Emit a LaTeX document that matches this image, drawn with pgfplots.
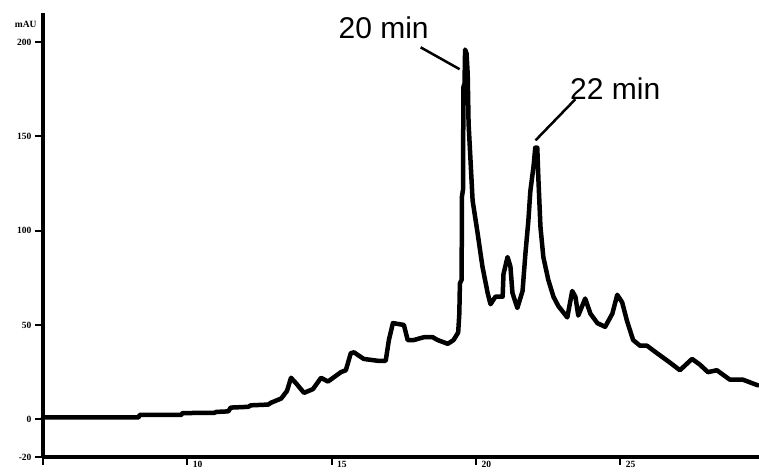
\documentclass[border=0pt]{standalone}
\usepackage{fontspec}
\setmainfont{Liberation Serif}
\newfontfamily\annotfont{Liberation Sans}
\usepackage{pgfplots}
\pgfplotsset{compat=1.18}
\begin{document}
\begin{tikzpicture}
\begin{axis}[
  at={(0pt,0pt)}, anchor=south west,
  scale only axis, width=716pt, height=444pt,
  xmin=5, xmax=29.8, ymin=-20, ymax=215.4,
  axis x line*=bottom, axis y line*=left,
  axis line style={line width=3.2pt},
  xtick={5,10,15,20,25}, xticklabels={,10,15,20,25},
  ytick={-20,0,50,100,150,200},
  tick align=outside, major tick length=8pt,
  tick style={line width=2pt, black},
  tick label style={font=\fontsize{9.5}{11}\selectfont\bfseries},
  xticklabel style={anchor=north west, xshift=2pt, yshift=7pt},
  /pgf/number format/assume math mode=true,
  clip=false,
]
\addplot[line width=4.5pt, line join=round, line cap=round] table {
t v
5.0 1
8.31 1
8.35 2.3
9.79 2.3
9.83 3.3
10.93 3.4
11.0 3.9
11.42 4.2
11.5 6.2
12.11 6.6
12.2 7.4
12.80 7.8
12.9 8.8
13.25 11
13.45 15
13.59 22
13.77 19
14.04 14
14.35 16
14.63 22
14.87 20
15.32 25
15.49 26
15.66 35
15.77 35.5
16.11 32
16.60 31
16.87 31
16.98 42
17.12 51
17.50 50
17.63 42
17.84 42
18.19 43.5
18.50 43.5
18.67 42
19.02 40
19.22 42
19.38 46
19.42 56
19.44 72
19.50 74
19.51 118
19.55 122
19.56 176
19.60 178
19.62 196
19.67 194
19.71 183
19.74 157
19.88 116
20.05 99
20.22 81
20.40 67
20.50 61
20.67 65
20.92 65
20.95 77
21.09 86
21.19 81
21.26 67
21.43 59
21.61 68
21.71 88
21.81 105
21.88 121
21.99 134
22.05 144
22.12 144
22.16 127
22.23 102
22.33 86
22.50 74
22.68 65
22.85 60
23.16 54
23.33 68
23.44 65
23.54 55
23.78 64
23.96 56
24.20 51
24.47 49
24.72 56
24.89 66
25.06 62
25.23 52
25.44 42
25.68 39
25.92 39
26.27 35
26.72 30
27.06 26
27.48 32
27.75 29
28.03 25
28.34 26
28.79 21
29.24 21
29.76 18
};
\node[font=\fontsize{9.5}{11}\selectfont\bfseries] at (axis cs:4.4,209.6) {mAU};
\node[font=\annotfont\fontsize{30}{36}\selectfont] at (axis cs:16.8,207.8) {20 min};
\node[font=\annotfont\fontsize{30}{36}\selectfont] at (axis cs:24.82,175.5) {22 min};
\draw[line width=2.5pt] (axis cs:18.08,197.2) -- (axis cs:19.43,185.6);
\draw[line width=2.5pt] (axis cs:23.44,169.7) -- (axis cs:22.06,147.9);
\end{axis}
\pgfresetboundingbox
\path (-43pt,-15pt) rectangle (716pt,457pt);
\end{tikzpicture}
\end{document}
